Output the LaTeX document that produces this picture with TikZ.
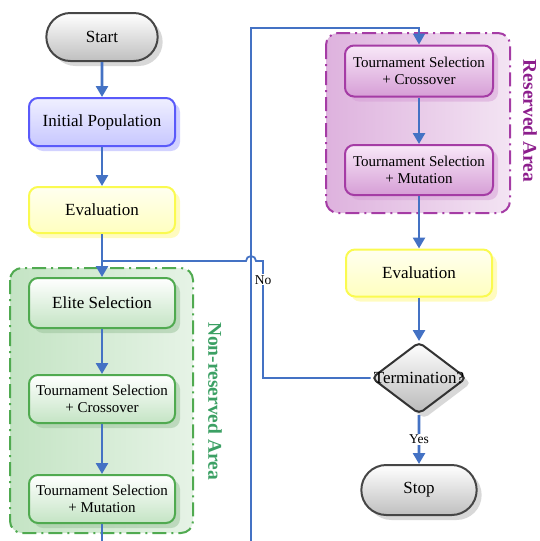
\documentclass[tikz,border=0pt]{standalone}
\usepackage{fontspec}
\setmainfont{Liberation Serif}
\usetikzlibrary{shapes.misc, shapes.geometric, shadows, arrows.meta}

\definecolor{flowblue}{RGB}{68,114,196}
\definecolor{edgeblue}{RGB}{90,90,250}
\definecolor{edgeyellow}{RGB}{250,250,80}
\definecolor{edgegreen}{RGB}{80,170,80}
\definecolor{edgepurple}{RGB}{165,60,165}
\definecolor{textgreen}{RGB}{60,160,100}
\definecolor{textpurple}{RGB}{140,30,140}
\definecolor{purpletop}{RGB}{248,232,248}
\definecolor{purplebottom}{RGB}{214,158,214}
\definecolor{purpleleft}{RGB}{222,178,222}
\definecolor{purpleright}{RGB}{243,228,243}
\definecolor{greenleft}{RGB}{196,228,196}
\definecolor{greenright}{RGB}{230,243,230}
\definecolor{greenbottom}{RGB}{196,228,196}

\begin{document}
\begin{tikzpicture}[x = 1pt, y = -1pt,
	flow/.style = {draw = flowblue, line width = 2.6pt},
	loop/.style = {draw = flowblue, line width = 1.8pt},
	tip/.style = {-{Stealth[inset = 0pt, length = 11pt, width = 12pt]}},
	arrow/.style = {flow, tip},
	tag/.style = {fill = white, inner sep = 1pt, font = \fontsize{13.5}{15}\selectfont},
	box/.style = {rounded corners = 9pt, line width = 2pt, minimum width = 146pt,
		minimum height = 48pt, align = center, inner sep = 2pt,
		font = \fontsize{17}{17}\selectfont},
	twoline/.style = {font = \fontsize{15}{17}\selectfont},
	shade/.style = {drop shadow = {shadow xshift = 5pt, shadow yshift = -5pt,
		opacity = 0.5, fill = #1}},
	termbox/.style = {rounded rectangle, line width = 2pt, draw = gray!55!black,
		top color = white, bottom color = gray!50, minimum width = 118pt,
		minimum height = 48pt, font = \fontsize{17}{17}\selectfont, shade = gray!60},
	bluebox/.style = {box, draw = edgeblue, top color = blue!6, bottom color = blue!22, shade = blue!35},
	yellowbox/.style = {box, draw = edgeyellow, top color = yellow!6, bottom color = yellow!25, shade = yellow!50},
	greenbox/.style = {box, draw = edgegreen, top color = white, bottom color = greenbottom, shade = green!40!black!40},
	purplebox/.style = {box, draw = edgepurple, top color = purpletop, bottom color = purplebottom, shade = purplebottom},
	decision/.style = {diamond, rounded corners = 5pt, line width = 2pt, draw = gray!40!black,
		top color = white, bottom color = gray!55, minimum width = 95pt,
		minimum height = 72pt, inner sep = 0pt, shade = gray!60},
	area/.style = {rounded corners = 12pt, line width = 2pt,
		dash pattern = on 14pt off 5pt on 2pt off 5pt},
	arealabel/.style = {rotate = -90, font = \bfseries\fontsize{19.5}{21}\selectfont}]

	\useasboundingbox (0,0) rectangle (539,541);

	% shaded areas
	\draw [area, draw = edgegreen, left color = greenleft, right color = greenright]
		(10,268) rectangle (193,533);
	\draw [area, draw = edgepurple, left color = purpleleft, right color = purpleright]
		(326,33) rectangle (510,213);
	\node [arealabel, text = textgreen] (nonreserved) at (215,401) {Non-reserved Area};
	\node [arealabel, text = textpurple] (reserved) at (530,121) {Reserved Area};

	% left column
	\node [termbox] (start) at (102,37) {Start};
	\node [bluebox] (init) at (102,122) {Initial Population};
	\node [yellowbox, minimum height = 46pt] (evalA) at (102,210) {Evaluation};
	\node [greenbox, minimum height = 50pt] (elite) at (102,303) {Elite Selection};
	\node [greenbox, twoline] (crossA) at (102,399) {Tournament Selection\\+ Crossover};
	\node [greenbox, twoline] (mutA) at (102,499) {Tournament Selection\\+ Mutation};

	% right column
	\node [purplebox, twoline, minimum width = 148pt, minimum height = 51pt] (crossB) at (419,71) {Tournament Selection\\+ Crossover};
	\node [purplebox, twoline, minimum width = 148pt, minimum height = 50pt] (mutB) at (419,170) {Tournament Selection\\+ Mutation};
	\node [yellowbox, minimum height = 47pt] (evalB) at (419,273) {Evaluation};
	\node [decision, label = {[font = \fontsize{17}{17}\selectfont]center:Termination?}] (term) at (419,378) {};
	\node [termbox, minimum width = 122pt, minimum height = 50pt] (stop) at (419,490) {Stop};

	\coordinate (join) at (102,261);
	\coordinate (noturn) at (263,261);
	\coordinate (outA) at (102,541);
	\coordinate (inB) at (251,541);
	\coordinate (topturn) at (419,28);

	% connectors
	\draw [arrow] (start) -- (init);
	\draw [arrow] (init) -- (evalA);
	\draw [arrow] (evalA) -- (elite);
	\draw [arrow] (elite) -- (crossA);
	\draw [arrow] (crossA) -- (mutA);
	\draw [flow] (mutA) -- (outA);
	\draw [loop, tip] (inB) |- (topturn) -- (crossB);
	\draw [arrow] (crossB) -- (mutB);
	\draw [arrow] (mutB) -- (evalB);
	\draw [arrow] (evalB) -- (term);
	\draw [arrow] (term) -- node [tag] {Yes} (stop);
	\draw [loop] (term.west) -| node [tag, pos = 0.92] {No} (noturn)
		-- ++(-7,0) arc [start angle = 0, end angle = -180, radius = 5] -- (join);
\end{tikzpicture}
\end{document}
